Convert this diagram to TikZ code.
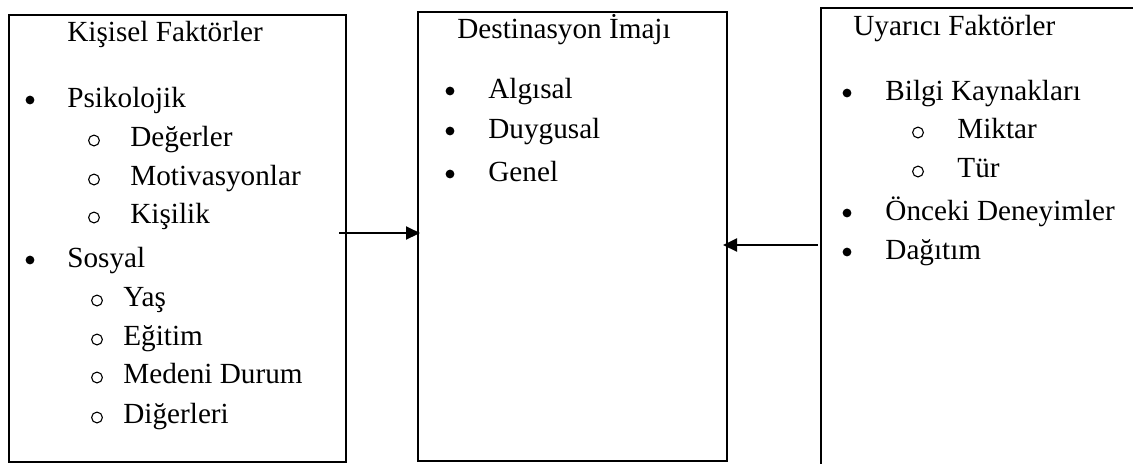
\documentclass[tikz,border=0pt]{standalone}
\usepackage{fontspec}
\setmainfont{Liberation Serif}
\usetikzlibrary{arrows.meta}

\newcommand\itemsize{\fontsize{14.6}{17}\selectfont}

\tikzset{FactorBox/.style={draw,line width=1pt,inner sep=0pt,outer sep=0pt},
         FactorItem/.style={anchor=base west,inner sep=0pt},
         FactorDot/.style={circle,fill,inner sep=0pt,minimum size=4.4pt},
         FactorSub/.style={circle,draw,line width=.55pt,inner sep=0pt,minimum size=5.4pt},
         FactorArrow/.style={line width=1pt,shorten >=-1pt,
                             -{Triangle[length=7pt,width=6.5pt]}}}

\begin{document}
\begin{tikzpicture}[x=.5pt,y=-.5pt,
  every node/.style={font=\itemsize}]
  \useasboundingbox (0,0) rectangle (1133,463);
  \clip (0,0) rectangle (1133,463);
  % the three boxes, the last one runs off the page
  \node[FactorBox,minimum width=168.5pt,minimum height=223.5pt] (kisisel) at (177.5,238.5) {};
  \node[FactorBox,minimum width=154.25pt,minimum height=224.65pt] (imaj) at (572.25,236.35) {};
  \node[FactorBox,minimum width=160pt,minimum height=236pt] (uyarici) at (980.7,244) {};
  % headings
  \node[FactorItem] (kisiselT) at (67,41.7) {Kişisel Faktörler};
  \node[FactorItem] (imajT) at (457,38) {Destinasyon İmajı};
  \node[FactorItem] (uyariciT) at (853,35) {Uyarıcı Faktörler};
  % first level items
  \foreach \n/\xd/\xt/\y/\t in {k1/30/67/107/Psikolojik,k2/30/67/267/Sosyal,
      i1/450/488/98/Algısal,i2/450/488/138/Duygusal,i3/450/488/181/Genel,
      u1/847/885/100/Bilgi Kaynakları,u2/847/885/220/Önceki Deneyimler,
      u3/847/885/259/Dağıtım} {
    \node[FactorDot] (dot\n) at (\xd,\y-7) {};
    \node[FactorItem] (item\n) at (\xt,\y) {\t};
  }
  % second level items
  \foreach \n/\xm/\xt/\y/\t in {k11/94/130/146/Değerler,k12/94/130/185/Motivasyonlar,
      k13/94/130/223/Kişilik,k21/97/123/306/Yaş,k22/97/123/345/Eğitim,
      k23/97/123/383/Medeni Durum,k24/97/123/423/Diğerleri,
      u11/918/957/138/Miktar,u12/918/957/177/Tür} {
    \node[FactorSub] (mark\n) at (\xm,\y-5.5) {};
    \node[FactorItem] (item\n) at (\xt,\y) {\t};
  }
  % arrows into the middle box
  \coordinate (lvlA) at (0,233);
  \coordinate (lvlB) at (0,245);
  \path (kisisel.east |- lvlA) coordinate (k2i);
  \path (uyarici.west |- lvlB) coordinate (u2i);
  \draw[FactorArrow] ([xshift=-3.5pt]k2i) -- (imaj.west |- lvlA);
  \draw[FactorArrow,shorten >=-1.75pt] ([xshift=-1.5pt]u2i) -- (imaj.east |- lvlB);
\end{tikzpicture}
\end{document}
